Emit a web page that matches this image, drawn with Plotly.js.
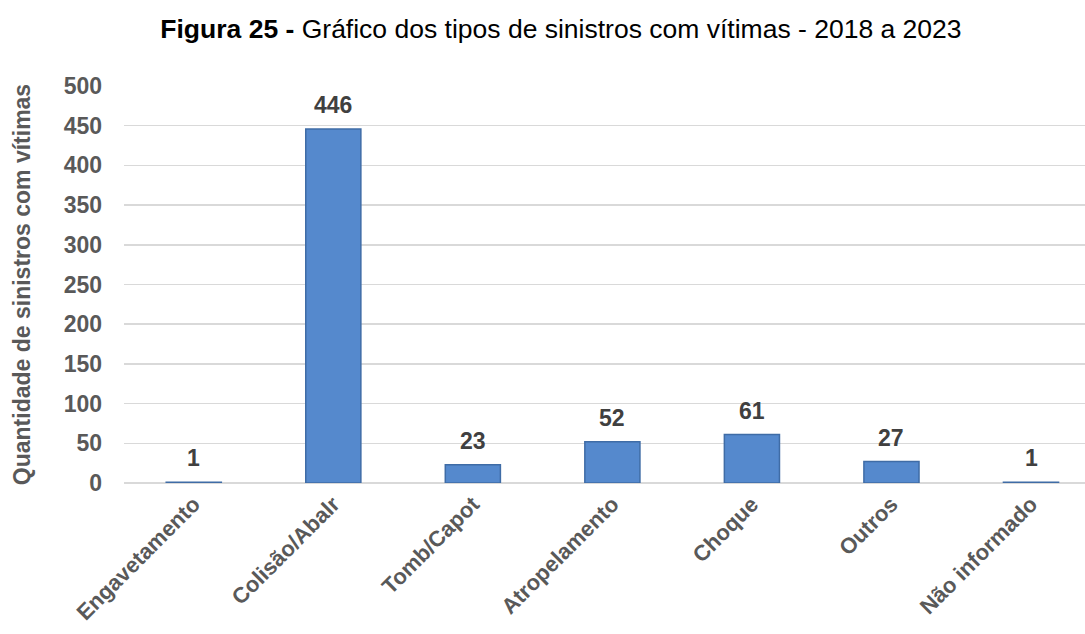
<!DOCTYPE html>
<html>
<head>
<meta charset="utf-8">
<script src="https://cdn.plot.ly/plotly-3.0.1.min.js"></script>
<style>html,body{margin:0;padding:0;background:#fff;}#chart{width:1085px;height:634px;}</style>
</head>
<body>
<div id="chart"></div>
<script>
const categories = ["Engavetamento", "Colisão/Abalr", "Tomb/Capot", "Atropelamento", "Choque", "Outros", "Não informado"];
const values = [1, 446, 23, 52, 61, 27, 1];
const yTicks = [0, 50, 100, 150, 200, 250, 300, 350, 400, 450, 500];

const FONT = "Liberation Sans, Arial, sans-serif";

const trace = {
  type: "bar",
  x: categories,
  y: values,
  marker: {
    color: "#5589cd",
    line: {color: "#3f6ca6", width: 1.5}
  },
  hoverinfo: "x+y"
};

const annotations = categories.map((c, i) => ({
  x: c,
  y: values[i],
  xref: "x",
  yref: "y",
  text: String(values[i]),
  showarrow: false,
  yanchor: "bottom",
  yshift: 9,
  font: {family: FONT, size: 23, color: "#404040", weight: "bold"}
}));

const layout = {
  width: 1085,
  height: 634,
  margin: {l: 124, r: 0, t: 86, b: 151},
  paper_bgcolor: "#ffffff",
  plot_bgcolor: "#ffffff",
  bargap: 0.605,
  showlegend: false,
  title: {
    text: "<b>Figura 25 -</b> Gráfico dos tipos de sinistros com vítimas - 2018 a 2023",
    font: {family: FONT, size: 26.5, color: "#000000"},
    x: 0.517,
    xref: "container",
    xanchor: "center",
    y: 0.955,
    yref: "container",
    yanchor: "middle"
  },
  xaxis: {
    type: "category",
    range: [-0.5, 6.387],
    tickangle: -45,
    tickfont: {family: FONT, size: 22, color: "#595959", weight: "bold"},
    ticks: "",
    ticklabelstandoff: 3,
    showgrid: false,
    showline: false,
    zeroline: false,
    fixedrange: true
  },
  yaxis: {
    range: [0, 500],
    tickvals: yTicks,
    ticktext: yTicks.map(String),
    tickfont: {family: FONT, size: 23, color: "#595959", weight: "bold"},
    ticks: "",
    ticklabelstandoff: 21,
    showgrid: true,
    gridcolor: "#d9d9d9",
    gridwidth: 1.5,
    zeroline: true,
    zerolinecolor: "#d9d9d9",
    zerolinewidth: 1.5,
    showline: false,
    title: {
      text: "Quantidade de sinistros com vítimas",
      font: {family: FONT, size: 23, color: "#595959", weight: "bold"},
      standoff: 26
    },
    fixedrange: true
  },
  annotations: annotations
};

Plotly.newPlot("chart", [trace], layout, {displayModeBar: false, staticPlot: true});
</script>
</body>
</html>
